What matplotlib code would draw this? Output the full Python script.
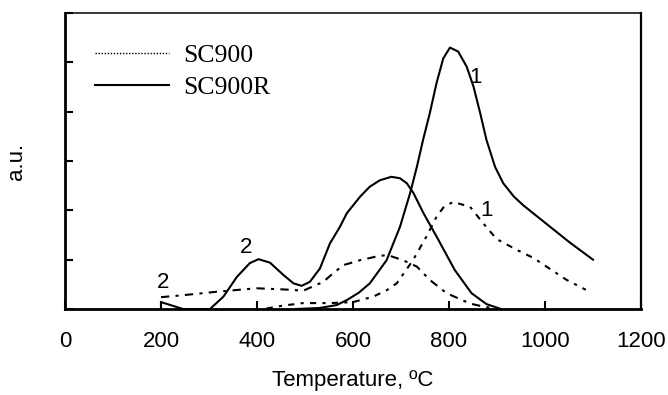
import matplotlib
matplotlib.use('Agg')
import matplotlib.pyplot as plt
from matplotlib.lines import Line2D

# SC900R, peak 1
r1_x = [480, 530, 566, 587, 612, 635, 670, 698, 719, 733, 746, 760, 774, 788, 802, 819, 837, 851, 865, 878, 896,
        913, 935, 955, 1000, 1050, 1100]
r1_y = [0, 0.02, 0.08, 0.18, 0.33, 0.52, 0.99, 1.67, 2.35, 2.88, 3.43, 3.97, 4.58, 5.08, 5.30, 5.22, 4.91, 4.51, 3.97,
        3.43, 2.88, 2.55, 2.28, 2.1, 1.75, 1.36, 1.0]

# SC900R, peak 2
r2_x = [200, 200, 246, 302, 330, 358, 385, 403, 427, 455, 476, 493, 510, 531, 552, 573, 587, 615, 635, 656, 680,
        698, 712, 726, 747, 778, 812, 847, 878, 908]
r2_y = [0, 0.14, 0, 0, 0.25, 0.65, 0.93, 1.01, 0.94, 0.69, 0.52, 0.47, 0.55, 0.82, 1.33, 1.67, 1.94, 2.28, 2.48,
        2.61, 2.68, 2.65, 2.55, 2.35, 1.94, 1.40, 0.79, 0.32, 0.10, 0]

# SC900, peak 2
s2_x = [200, 246, 316, 399, 448, 469, 496, 538, 558, 580, 615, 656, 673, 704, 733, 760, 795, 844, 871, 900]
s2_y = [0.24, 0.28, 0.35, 0.42, 0.4, 0.39, 0.37, 0.55, 0.72, 0.89, 0.99, 1.08, 1.09, 0.99, 0.86, 0.59, 0.32, 0.11,
        0.05, 0.0]

# SC900, peak 1
s1_x = [420, 455, 496, 552, 600, 642, 670, 691, 725, 753, 774, 790, 809, 844, 871, 899, 941, 977, 1003, 1045, 1085]
s1_y = [0.01, 0.07, 0.12, 0.12, 0.14, 0.25, 0.38, 0.52, 0.99, 1.47, 1.87, 2.08, 2.17, 2.07, 1.74, 1.42, 1.2, 1.03,
        0.86, 0.59, 0.39]

x_ticks = [0, 200, 400, 600, 800, 1000, 1200]

fig = plt.figure(figsize=(6.68, 3.95), dpi=100)
ax = fig.add_axes([0.0973, 0.2177, 0.8623, 0.7493])

lw = 1.5
ax.plot(r1_x, r1_y, color='black', lw=lw, solid_joinstyle='round')
ax.plot(r2_x, r2_y, color='black', lw=lw, solid_joinstyle='round')
ax.plot(s2_x, s2_y, color='black', lw=lw, linestyle=(0, (4, 3, 1.5, 3)))
ax.plot(s1_x, s1_y, color='black', lw=lw, linestyle=(0, (3, 3, 1.5, 3)))

ax.set_xlim(0, 1200)
ax.set_ylim(0, 6)
ax.set_xticks(x_ticks)
ax.set_yticks(range(7))
ax.set_yticklabels([])
ax.tick_params(direction='in', length=6, width=1.5, labelsize=16, pad=16)

for side in ['left', 'bottom']:
    ax.spines[side].set_linewidth(2)
ax.spines['top'].set_linewidth(1.1)
ax.spines['right'].set_linewidth(1.6)

for t in ax.get_xticklabels():
    t.set_family('Liberation Sans')

ax.set_xlabel('Temperature, ºC', family='Liberation Sans', fontsize=16, labelpad=13)
ax.set_ylabel('a.u.', family='Liberation Sans', fontsize=16, labelpad=11)

# peak labels
ax.text(856, 4.7, '1', family='Liberation Sans', fontsize=16, ha='center', va='center')
ax.text(879, 2.0, '1', family='Liberation Sans', fontsize=16, ha='center', va='center')
ax.text(377, 1.24, '2', family='Liberation Sans', fontsize=16, ha='center', va='center')
ax.text(204, 0.53, '2', family='Liberation Sans', fontsize=16, ha='center', va='center')

handles = [Line2D([], [], color='black', lw=1, linestyle=(0, (1, 1.2))),
           Line2D([], [], color='black', lw=1.5)]
ax.legend(handles, ['SC900', 'SC900R'], loc='upper left', bbox_to_anchor=(0.052, 0.896),
          frameon=False, borderaxespad=0, borderpad=0, handlelength=2.9, handletextpad=0.55,
          labelspacing=0.37, prop={'family': 'Liberation Serif', 'size': 18.5})

fig.savefig('out.png', dpi=100)
